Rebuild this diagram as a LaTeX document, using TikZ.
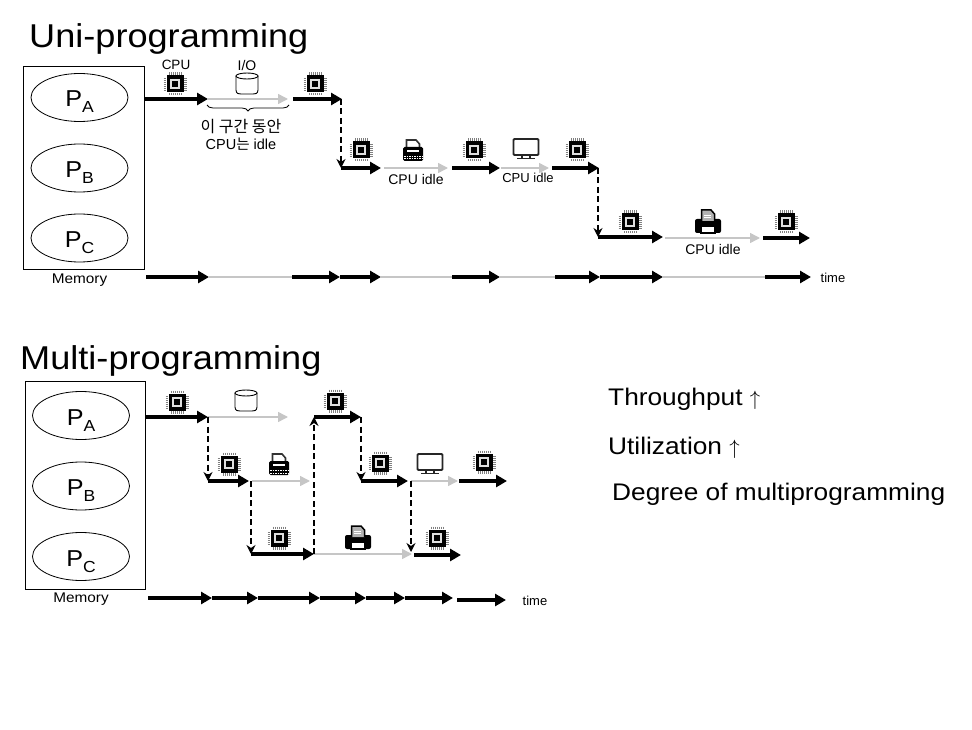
\documentclass[tikz,border=0pt]{standalone}
\usepackage{fontspec}
\setmainfont{Liberation Sans}
\newfontfamily\widefont[FakeStretch=1.095]{Liberation Sans}
\newfontfamily\korfont{Noto Sans CJK KR}
\usetikzlibrary{arrows.meta,shapes.geometric,decorations.pathreplacing}
\newcommand{\procname}[1]{{\widefont\fontsize{23}{23}\selectfont P\raisebox{-6pt}{\fontsize{16}{16}\selectfont #1}}}
\newcommand{\uparr}{{\fontsize{21}{21}\selectfont$\uparrow$}}
\tikzset{
  memorybox/.style={draw,line width=0.8pt,minimum width=121pt,minimum height=203pt,inner sep=0pt},
  proc/.style={draw,ellipse,line width=0.8pt,minimum width=97pt,minimum height=48pt,inner sep=0pt,text height=19pt,text depth=0pt},
  title/.style={inner sep=0pt,anchor=base west,font=\widefont\fontsize{33}{33}\selectfont},
  note/.style={inner sep=0pt,anchor=base west,font=\widefont\fontsize{24}{24}\selectfont},
  label/.style={inner sep=0pt,font=\fontsize{14}{16}\selectfont,align=center},
  memlabel/.style={inner sep=0pt,font=\widefont\fontsize{14}{16}\selectfont},
  smalllabel/.style={inner sep=0pt,font=\fontsize{13}{15}\selectfont},
  cpuline/.style={line width=3.6pt,-{Triangle[length=11pt,width=12pt]}},
  ioline/.style={line width=1.5pt,gray!45,-{Triangle[length=10pt,width=10pt]}},
  idleline/.style={line width=1.2pt,gray!45},
  switchline/.style={line width=1.3pt,dash pattern=on 6pt off 3.5pt,-{Stealth[length=9pt,width=9pt,inset=3pt]}},
  chip/.pic={
    \foreach \i in {-6,-4,...,6} {
      \draw[gray,line width=0.8pt] (\i,-11.5) -- (\i,11.5);
      \draw[gray,line width=0.8pt] (-11.5,\i) -- (11.5,\i);
    }
    \fill[white] (-9,-9) rectangle (9,9);
    \fill[black] (-8.5,-8.5) rectangle (8.5,8.5);
    \fill[gray!25] (-5.2,-5.2) rectangle (5.2,5.2);
    \fill[black] (-3.4,-3.4) rectangle (3.4,3.4);
  },
  disk/.pic={
    \draw[line width=0.9pt,fill=white] (-11,-7) -- (-11,7) .. controls (-11,11) and (-8,11) .. (-6,11)
      -- (6,11) .. controls (8,11) and (11,11) .. (11,7) -- (11,-7);
    \draw[line width=0.9pt] (0,-7) ellipse (11 and 3);
  },
  typewriter/.pic={
    \draw[line width=1.6pt,black!80] (-6.5,-1) -- (-6.5,-10) -- (3,-10) -- (6.5,-6) -- (6.5,-1);
    \fill[black,rounded corners=1.5pt] (-10,-3) rectangle (10,11);
    \fill[white] (-6,0) rectangle (6,2);
    \draw[white,line width=1pt,dash pattern=on 1.5pt off 1pt] (-9,6.5) -- (9,6.5);
    \draw[white,line width=1pt,dash pattern=on 1.5pt off 1pt] (-9,9) -- (9,9);
  },
  monitor/.pic={
    \draw[line width=1.8pt,black!85,rounded corners=1pt] (-12.5,-10) rectangle (12.5,6);
    \draw[line width=1.2pt,black!85] (-4,7) -- (-4,9) (4,7) -- (4,9);
    \draw[line width=1.5pt,black!85] (-9,9.5) -- (9,9.5);
  },
  printer/.pic={
    \fill[black,rounded corners=2pt] (-13,-3) rectangle (13,11);
    \draw[line width=1.5pt,fill=gray!60] (-6.5,-1) -- (-6.5,-12) -- (3,-12) -- (6.5,-8) -- (6.5,-1);
    \draw[white,line width=0.8pt] (-4,-7) -- (3,-7) (-4,-4.5) -- (3,-4.5);
    \draw[line width=1.5pt,fill=white] (-7,4) rectangle (7,11);
  }
}
\begin{document}
\begin{tikzpicture}[x=1pt,y=-1pt]
   \useasboundingbox (0,0) rectangle (972,730);

   % Uni-programming
   \node[title] (uniTitle) at (29,48) {Uni-programming};
   \node[memorybox] (memU) at (83.5,167.5) {};
   \node[proc] (uPA) at (79.5,97.5) {\procname{A}};
   \node[proc] (uPB) at (79.5,168) {\procname{B}};
   \node[proc] (uPC) at (79.5,238) {\procname{C}};
   \node[memlabel] (memUl) at (79.5,280) {Memory};

   \node[smalllabel,font=\fontsize{13.5}{15}\selectfont] (cpuL) at (176,65) {CPU};
   \node[smalllabel,font=\fontsize{14}{15}\selectfont] (ioL) at (247,65) {I/O};
   \pic at (175,84) {chip};
   \pic at (247,83) {disk};
   \pic at (315,84) {chip};
   \pic at (361,150) {chip};
   \pic at (413,150) {typewriter};
   \pic at (474,150) {chip};
   \pic at (526,149) {monitor};
   \pic at (577,150) {chip};
   \pic at (630,222) {chip};
   \pic at (708,222) {printer};
   \pic at (786,222) {chip};

   \coordinate (u1) at (144,99);
   \coordinate (u2) at (208,99);
   \coordinate (u3) at (288,99);
   \coordinate (u4) at (293,99);
   \coordinate (u5) at (342,99);
   \coordinate (u6) at (341,99);
   \coordinate (u7) at (341,168);
   \coordinate (u8) at (381,168);
   \coordinate (u9) at (384,168);
   \coordinate (u10) at (448,168);
   \coordinate (u11) at (452,168);
   \coordinate (u12) at (500,168);
   \coordinate (u13) at (501,168);
   \coordinate (u14) at (549,168);
   \coordinate (u15) at (552,168);
   \coordinate (u16) at (599,168);
   \coordinate (u17) at (598,168);
   \coordinate (u18) at (598,237);
   \coordinate (u19) at (663,237);
   \coordinate (u20) at (665,238);
   \coordinate (u21) at (760,238);
   \coordinate (u22) at (763,238);
   \coordinate (u23) at (810,238);
   \path (u1) edge[cpuline] (u2)
         (u2) edge[ioline] (u3)
         (u4) edge[cpuline] (u5)
         (u6) edge[switchline] (u7)
         (u7) edge[cpuline] (u8)
         (u9) edge[ioline] (u10)
         (u11) edge[cpuline] (u12)
         (u13) edge[ioline] (u14)
         (u15) edge[cpuline] (u16)
         (u17) edge[switchline] (u18)
         (u18) edge[cpuline] (u19)
         (u20) edge[ioline] (u21)
         (u22) edge[cpuline] (u23);

   \coordinate (braceL) at (207,105);
   \coordinate (braceR) at (289,105);
   \draw[line width=0.8pt,decorate,decoration={brace,mirror,amplitude=6pt,raise=0pt}] (braceL) -- (braceR);
   \node[label] (idleA) at (241,135) {{\korfont\fontsize{16}{18}\selectfont 이 구간 동안}\\[1pt]{\fontsize{14.5}{16}\selectfont CPU{\korfont 는} idle}};
   \node[label] (idleB) at (416,179) {CPU idle};
   \node[smalllabel] (idleC) at (528,178) {CPU idle};
   \node[label] (idleD) at (713,249) {CPU idle};

   % time line
   \coordinate (t1) at (146,277);
   \coordinate (t2) at (209,277);
   \coordinate (t3) at (292,277);
   \coordinate (t4) at (340,277);
   \coordinate (t5) at (381,277);
   \coordinate (t6) at (452,277);
   \coordinate (t7) at (500,277);
   \coordinate (t8) at (555,277);
   \coordinate (t9) at (600,277);
   \coordinate (t10) at (663,277);
   \coordinate (t11) at (765,277);
   \coordinate (t12) at (811,277);
   \path (t2) edge[idleline] (t3)
         (t5) edge[idleline] (t6)
         (t7) edge[idleline] (t8)
         (t10) edge[idleline] (t11)
         (t1) edge[cpuline] (t2)
         (t3) edge[cpuline] (t4)
         (t4) edge[cpuline] (t5)
         (t6) edge[cpuline] (t7)
         (t8) edge[cpuline] (t9)
         (t9) edge[cpuline] (t10)
         (t11) edge[cpuline] (t12);
   \node[smalllabel] (timeU) at (833,278) {time};

   % Multi-programming
   \node[title] (multiTitle) at (20,369) {Multi-programming};
   \node[memorybox,minimum width=120pt,minimum height=208pt] (memM) at (85.5,485) {};
   \node[proc] (mPA) at (81,415.5) {\procname{A}};
   \node[proc] (mPB) at (81,486) {\procname{B}};
   \node[proc] (mPC) at (81,556.5) {\procname{C}};
   \node[memlabel] (memMl) at (81,599) {Memory};

   \pic at (177,402) {chip};
   \pic at (246,400) {disk};
   \pic at (229,464) {chip};
   \pic at (279,464) {typewriter};
   \pic at (279,538) {chip};
   \pic at (335,401) {chip};
   \pic at (358,538) {printer};
   \pic at (380,463) {chip};
   \pic at (430,464) {monitor};
   \pic at (437,538) {chip};
   \pic at (484,462) {chip};

   \coordinate (m1) at (146,417);
   \coordinate (m2) at (208,417);
   \coordinate (m3) at (288,417);
   \coordinate (m4) at (208,481);
   \coordinate (m5) at (249,481);
   \coordinate (m6) at (252,481);
   \coordinate (m7) at (310,481);
   \coordinate (m8) at (251,481);
   \coordinate (m9) at (251,554);
   \coordinate (m10) at (314,554);
   \coordinate (m11) at (314,417);
   \coordinate (m12) at (361,417);
   \coordinate (m13) at (361,481);
   \coordinate (m14) at (408,481);
   \coordinate (m15) at (411,481);
   \coordinate (m16) at (458,481);
   \coordinate (m17) at (459,481);
   \coordinate (m18) at (507,481);
   \coordinate (m19) at (412,554);
   \coordinate (m20) at (411,552);
   \coordinate (m21) at (414,555);
   \coordinate (m22) at (461,555);
   \path (m2) edge[ioline] (m3)
         (m6) edge[ioline] (m7)
         (m10) edge[ioline] (m19)
         (m15) edge[ioline] (m16)
         (m1) edge[cpuline] (m2)
         (m2) edge[switchline] (m4)
         (m4) edge[cpuline] (m5)
         (m8) edge[switchline] (m9)
         (m9) edge[cpuline] (m10)
         (m10) edge[switchline] (m11)
         (m11) edge[cpuline] (m12)
         (m12) edge[switchline] (m13)
         (m13) edge[cpuline] (m14)
         (m17) edge[cpuline] (m18)
         (m15) edge[switchline] (m20)
         (m21) edge[cpuline] (m22);

   \coordinate (s1) at (148,598);
   \coordinate (s2) at (212,598);
   \coordinate (s3) at (258,598);
   \coordinate (s4) at (320,598);
   \coordinate (s5) at (366,598);
   \coordinate (s6) at (405,598);
   \coordinate (s7) at (453,598);
   \coordinate (s8) at (457,600);
   \coordinate (s9) at (506,600);
   \path (s1) edge[cpuline] (s2)
         (s2) edge[cpuline] (s3)
         (s3) edge[cpuline] (s4)
         (s4) edge[cpuline] (s5)
         (s5) edge[cpuline] (s6)
         (s6) edge[cpuline] (s7)
         (s8) edge[cpuline] (s9);
   \node[smalllabel] (timeM) at (535,601) {time};

   \node[note] (noteA) at (608,405) {Throughput \uparr};
   \node[note] (noteB) at (608,454) {Utilization \uparr};
   \node[note] (noteC) at (612,500) {Degree of multiprogramming};
\end{tikzpicture}
\end{document}
